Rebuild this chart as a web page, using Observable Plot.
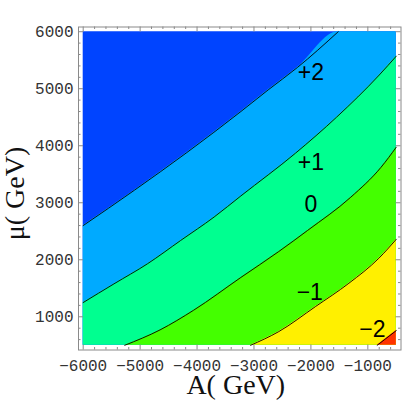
<!DOCTYPE html>
<html><head><meta charset="utf-8">
<script src="https://cdn.jsdelivr.net/npm/d3@7"></script>
<script src="https://cdn.jsdelivr.net/npm/@observablehq/plot@0.6"></script>
<style>body{margin:0;background:#fff}</style>
</head><body><div id="chart"></div>
<script>
// data region and ticks
const xRange = [-6000, -500];
const yRange = [500, 6000];
const xTicks = [-6000, -5000, -4000, -3000, -2000, -1000];
const yTicks = [1000, 2000, 3000, 4000, 5000, 6000];
// contour levels and band colours (top-left band first)
const levelNames = ["+2", "+1", "0", "−1", "−2"];
const bandColors = ["#0044ff", "#00aaff", "#00ff90", "#44ff00", "#fff000", "#ff3300"];
// contour lines: [A, mu]
const contourP2 = [[-6000,2600],[-5100,3220],[-4180,3880],[-3230,4600],[-2750,4980],[-2240,5370],[-1520,6000]];
const contourP1 = [[-6000,1250],[-5460,1577],[-4870,1930],[-4290,2337],[-3700,2750],[-3230,3120],[-2270,3870],[-1550,4500],[-800,5240],[-500,5572]];
const contour0  = [[-5270,500],[-4650,770],[-4060,1115],[-3230,1690],[-2565,2144],[-2060,2513],[-1300,3097],[-770,3620],[-500,3975]];
const contourM1 = [[-3060,500],[-2565,740],[-1920,1179],[-1333,1588],[-806,2027],[-500,2360]];
const contourM2 = [[-836,500],[-500,758]];
// label positions
const labelX = [-2000, -2000, -2000, -2020, -920];
const labelY = [5290, 3700, 2960, 1425, 770];

const contours = [contourP2, contourP1, contour0, contourM1, contourM2];

// close a line that leaves through the top edge so the area below it fills the corner
function closeTop(pts) {
  const last = pts[pts.length - 1];
  if (last[1] >= yRange[1] && last[0] < xRange[1]) return [...pts, [xRange[1], yRange[1]]];
  return pts;
}

const pad = (xRange[1] - xRange[0]) * 0.015;
const W = 402, H = 402;
const mL = 78, mR = 1.5, mT = 26.5, mB = 52.5;
const fw = W - mL - mR, fh = H - mT - mB;
const mono = "Liberation Mono, Courier New, monospace";
const serif = "Liberation Serif, Times New Roman, serif";
const grey = "#8a8a8a";
const fmt = d3.format("d");
const xMinor = d3.range(xRange[0] + 200, xRange[1], 200).filter(v => v % 1000 !== 0);
const yMinor = d3.range(yRange[0] + 100, yRange[1], 200).filter(v => v % 1000 !== 0);

const marks = [
  Plot.areaY(xRange, {x: d => d, y1: yRange[0], y2: yRange[1], fill: bandColors[0]}),
  ...contours.map((c, i) => Plot.areaY(closeTop(c), {x: d => d[0], y1: yRange[0], y2: d => d[1], fill: bandColors[i + 1], curve: "monotone-x"})),
  ...contours.map(c => Plot.line(c, {x: d => d[0], y: d => d[1], stroke: "black", strokeWidth: 0.9, curve: "monotone-x"})),
  Plot.text(levelNames, {x: (d, i) => labelX[i], y: (d, i) => labelY[i], text: d => d, fontSize: 23, fontFamily: "Liberation Sans, Arial, sans-serif", fill: "black"}),
  Plot.frame({stroke: grey}),
  // inward ticks on all four sides
  Plot.tickX(xTicks, {x: d => d, insetTop: fh - 5, stroke: grey}),
  Plot.tickX(xTicks, {x: d => d, insetBottom: fh - 5, stroke: grey}),
  Plot.tickX(xMinor, {x: d => d, insetTop: fh - 2.5, stroke: grey}),
  Plot.tickX(xMinor, {x: d => d, insetBottom: fh - 2.5, stroke: grey}),
  Plot.tickY(yTicks, {y: d => d, insetRight: fw - 5, stroke: grey}),
  Plot.tickY(yTicks, {y: d => d, insetLeft: fw - 5, stroke: grey}),
  Plot.tickY(yMinor, {y: d => d, insetRight: fw - 2.5, stroke: grey}),
  Plot.tickY(yMinor, {y: d => d, insetLeft: fw - 2.5, stroke: grey}),
  Plot.axisX({ticks: xTicks, tickSize: 0, tickPadding: 10, fontSize: 16, fontFamily: mono, tickFormat: fmt, label: null, fill: "#333"}),
  Plot.axisY({ticks: yTicks, tickSize: 0, tickPadding: 5, fontSize: 16, fontFamily: mono, tickFormat: fmt, label: null, fill: "#333"}),
  Plot.text(["A( GeV)"], {frameAnchor: "bottom", textAnchor: "middle", lineAnchor: "middle", dx: -4, dy: 35, text: d => d, fontSize: 28, fontFamily: serif, fill: "#111"}),
  Plot.text(["μ( GeV)"], {frameAnchor: "left", textAnchor: "middle", lineAnchor: "middle", rotate: -90, dx: -63, dy: 5, text: d => d, fontSize: 28, fontFamily: serif, fill: "#111"})
];

const chart = Plot.plot({
  width: W, height: H,
  marginLeft: mL, marginRight: mR, marginTop: mT, marginBottom: mB,
  x: {domain: [xRange[0] - pad, xRange[1] + pad]},
  y: {domain: [yRange[0] - pad, yRange[1] + pad]},
  style: {background: "white", overflow: "visible"},
  marks
});
document.getElementById("chart").appendChild(chart);
</script>
</body></html>
